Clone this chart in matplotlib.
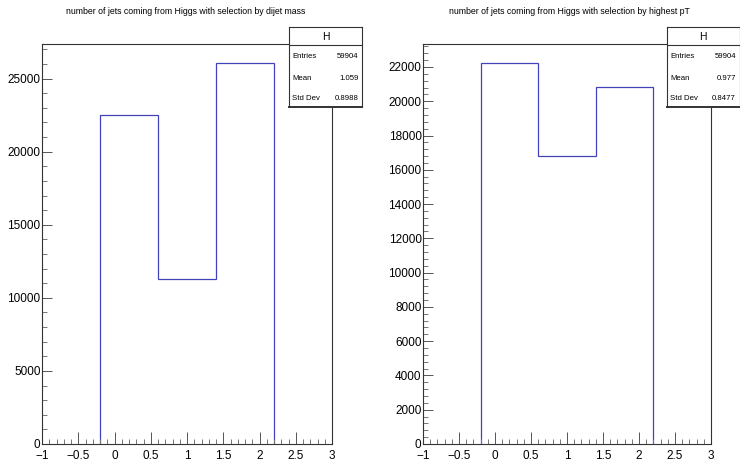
import numpy as np
import matplotlib
matplotlib.use("Agg")
import matplotlib.pyplot as plt
from matplotlib.ticker import MultipleLocator, FuncFormatter

plt.rcParams['font.family'] = ['Liberation Sans', 'DejaVu Sans']

# jet multiplicity (0, 1, 2) filled into 3 bins of width 0.8
values = np.array([0, 1, 2])
edges = np.array([-0.2, 0.6, 1.4, 2.2])
counts_mass = np.array([22533, 11304, 26067])
counts_pt = np.array([22228, 16826, 20850])

titles = ["number of jets coming from Higgs with selection by dijet mass",
          "number of jets coming from Higgs with selection by highest pT"]

W, H = 740, 462
line_col = '#4242bb'
frame_col = '#333333'


def fmt(v, pos=None):
    return f"{v:g}".replace('-', '\u2212')


def stats(counts):
    n = counts.sum()
    mean = (values * counts).sum() / n
    std = np.sqrt((values**2 * counts).sum() / n - mean**2)
    return n, mean, std


def draw_hist(ax, counts, ymajor, yminor):
    ax.stairs(counts, edges, color=line_col, lw=0.9, baseline=0)
    ax.set_xlim(-1, 3)
    ax.set_ylim(0, counts.max() * 1.05)
    ax.xaxis.set_major_locator(MultipleLocator(0.5))
    ax.xaxis.set_minor_locator(MultipleLocator(0.1))
    ax.yaxis.set_major_locator(MultipleLocator(ymajor))
    ax.yaxis.set_minor_locator(MultipleLocator(yminor))
    ax.xaxis.set_major_formatter(FuncFormatter(fmt))
    ax.yaxis.set_major_formatter(FuncFormatter(fmt))
    ax.tick_params(axis='x', which='major', direction='in', length=8.6,
                   width=0.7, color='#555555', labelsize=8.5, pad=4.5)
    ax.tick_params(axis='x', which='minor', direction='in', length=3.6,
                   width=0.7, color='#777777')
    ax.tick_params(axis='y', which='major', direction='in', length=7.2,
                   width=0.7, color='#555555', labelsize=8.5, pad=1)
    ax.tick_params(axis='y', which='minor', direction='in', length=3.6,
                   width=0.7, color='#777777')
    for s in ax.spines.values():
        s.set_color(frame_col)
        s.set_linewidth(0.8)


def stats_box(fig, x0, x1, y0, y1, counts):
    n, mean, std = stats(counts)
    bx = fig.add_axes([x0 / W, 1 - y1 / H, (x1 - x0) / W, (y1 - y0) / H])
    bx.set_xlim(0, 1)
    bx.set_ylim(y1, y0)
    bx.set_xticks([])
    bx.set_yticks([])
    for s in bx.spines.values():
        s.set_color(frame_col)
        s.set_linewidth(0.8)
    bx.spines['bottom'].set_linewidth(1.4)
    bx.axhline(45, color=frame_col, lw=0.8)
    bx.text(0.5, 36.5, "H", ha='center', va='center', fontsize=7.5)
    rows = [("Entries", f"{n}"), ("Mean", f"{mean:.4g}"), ("Std Dev", f"{std:.4g}")]
    for (lab, val), yy in zip(rows, [56.5, 78, 98.5]):
        bx.text(0.04, yy, lab, ha='left', va='center', fontsize=5.6)
        bx.text(0.95, yy, val, ha='right', va='center', fontsize=5.6)


fig = plt.figure(figsize=(W / 100, H / 100), dpi=100)

ax1 = fig.add_axes([42 / W, 1 - 444 / H, 290 / W, 400 / H])
draw_hist(ax1, counts_mass, 5000, 1000)
ax2 = fig.add_axes([423 / W, 1 - 444 / H, 288 / W, 400 / H])
draw_hist(ax2, counts_pt, 2000, 400)

fig.text(186 / W, 1 - 12 / H, titles[0], ha='center', va='center', fontsize=6.3)
fig.text(569 / W, 1 - 12 / H, titles[1], ha='center', va='center', fontsize=6.3)

stats_box(fig, 289, 362, 27, 107, counts_mass)
stats_box(fig, 667, 739.5, 27, 107, counts_pt)

fig.savefig("out.png", dpi=100)
